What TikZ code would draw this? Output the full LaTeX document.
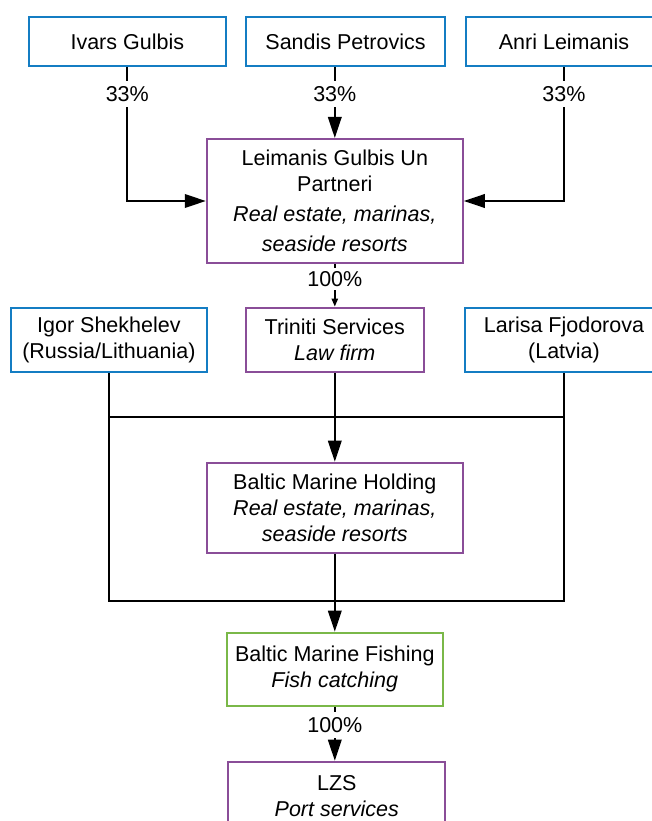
\documentclass[tikz,border=0pt]{standalone}
\usepackage{fontspec}
\setmainfont{Liberation Sans}
\usetikzlibrary{arrows.meta}
\definecolor{ownerblue}{RGB}{20,125,195}
\definecolor{firmpurple}{RGB}{138,78,152}
\definecolor{fishgreen}{RGB}{122,184,72}
\begin{document}
\begin{tikzpicture}[x=1pt,y=-1pt,
  box/.style={draw, line width=2pt, rectangle, align=center, inner sep=0pt,
    font=\fontsize{21.5}{26}\selectfont},
  person/.style={box, draw=ownerblue},
  firm/.style={box, draw=firmpurple},
  fishing/.style={box, draw=fishgreen},
  link/.style={line width=2pt, black},
  arr/.style={link, -{Triangle[length=21pt,width=13.5pt]}},
  smallarr/.style={link, -{Triangle[length=8pt,width=6pt]}},
  share/.style={fill=white, inner xsep=1pt, inner ysep=5pt,
    font=\fontsize{21.5}{26}\selectfont}
]
\useasboundingbox (0,0) rectangle (652,821);

% owners
\node[person, minimum width=197pt, minimum height=49pt] (ivars) at (127.3,41.5) {Ivars Gulbis};
\node[person, minimum width=199pt, minimum height=49pt] (sandis) at (345.5,42) {Sandis Petrovics};
\node[person, minimum width=197pt, minimum height=49pt] (anri) at (564,42) {Anri Leimanis};

% holding partnership
\node[firm, minimum width=256pt, minimum height=124pt] (lgp) at (334.8,201)
  {Leimanis Gulbis Un\\Partneri\\[4pt]\textit{Real estate, marinas,}\\[4pt]\textit{seaside resorts}};

% second row
\node[person, minimum width=196.6pt, minimum height=64.6pt] (igor) at (108.9,340)
  {Igor Shekhelev\\(Russia/Lithuania)};
\node[firm, minimum width=178pt, minimum height=64.6pt] (triniti) at (334.8,340)
  {Triniti Services\\\textit{Law firm}};
\node[person, minimum width=198pt, minimum height=64.6pt] (larisa) at (564,340)
  {Larisa Fjodorova\\(Latvia)};

% lower chain
\node[firm, minimum width=256pt, minimum height=90pt] (bmh) at (334.8,507.7)
  {Baltic Marine Holding\\\textit{Real estate, marinas,}\\\textit{seaside resorts}};
\node[fishing, minimum width=216.6pt, minimum height=73.3pt] (bmf) at (334.8,669.3)
  {Baltic Marine Fishing\\\textit{Fish catching}};
\node[firm, minimum width=217pt, minimum height=68pt] (lzs) at (336.8,795.7)
  {LZS\\\textit{Port services}};

% junction rails
\coordinate (railtop) at (334.8,417);
\coordinate (railbot) at (334.8,600.7);

% ownership links
\draw[arr] (ivars.south) |- (lgp.west);
\draw[arr] (sandis.south -| lgp.north) -- (lgp.north);
\draw[arr] (anri.south) |- (lgp.east);
\draw[smallarr] (lgp.south) -- (triniti.north);

\draw[link] (igor.south) |- (larisa.south |- railbot) -- (larisa.south);
\draw[link] (igor.south |- railtop) -- (larisa.south |- railtop);
\draw[arr] (triniti.south) -- (bmh.north);
\draw[arr] (bmh.south) -- (bmf.north);
\draw[arr] (bmf.south) -- (bmf.south |- lzs.north);

% share labels
\node[share] (s1) at (127.3,94) {33\%};
\node[share] (s2) at (334.8,94) {33\%};
\node[share] (s3) at (564,94) {33\%};
\node[share, inner ysep=3pt] (s4) at (334.8,279) {100\%};
\node[share] (s5) at (334.8,725) {100\%};
\end{tikzpicture}
\end{document}
